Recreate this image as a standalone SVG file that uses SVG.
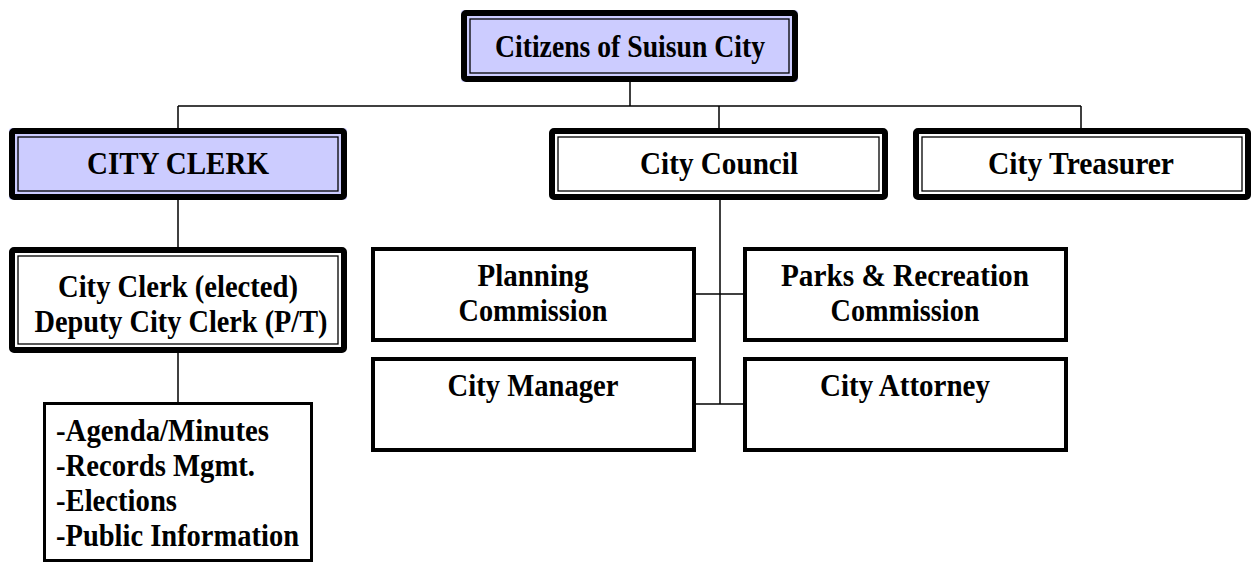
<svg xmlns="http://www.w3.org/2000/svg" width="1253" height="564" viewBox="0 0 1253 564">
<style>
  text { font-family: "Liberation Serif", "Times New Roman", serif; font-weight: bold; font-size: 32px; fill: #000; }
  .c { text-anchor: middle; }
  .thick { fill: none; stroke: #000; stroke-width: 6; }
  .thin { fill: none; stroke: #000; stroke-width: 1.3; }
  .lav { fill: #CCCCFF; }
  .wht { fill: #FFFFFF; }
  .single { fill: #FFFFFF; stroke: #000; stroke-width: 4; }
  .duty { fill: #FFFFFF; stroke: #000; stroke-width: 3; }
  .conn line { stroke: #000; stroke-width: 1.5; }
</style>
<rect width="1253" height="564" fill="#FFFFFF"/>
<g class="conn" id="connectors">
  <line x1="630" y1="82" x2="630" y2="106"/>
  <line x1="178" y1="106" x2="1081" y2="106"/>
  <line x1="178" y1="106" x2="178" y2="128"/>
  <line x1="719" y1="106" x2="719" y2="128"/>
  <line x1="1081" y1="106" x2="1081" y2="128"/>
  <line x1="178" y1="200" x2="178" y2="247"/>
  <line x1="178" y1="353" x2="178" y2="402"/>
  <line x1="720" y1="200" x2="720" y2="404"/>
  <line x1="696" y1="294" x2="743" y2="294"/>
  <line x1="696" y1="404" x2="743" y2="404"/>
</g>
<g id="citizens">
  <rect class="lav" x="461" y="10" width="337" height="72" rx="3"/>
  <rect class="thick" x="464" y="13" width="331" height="66" rx="2"/>
  <rect class="thin" x="470" y="19" width="319" height="54"/>
  <text class="c" x="630" y="57" textLength="270" lengthAdjust="spacingAndGlyphs">Citizens of Suisun City</text>
</g>
<g id="city-clerk">
  <rect class="lav" x="9" y="128" width="338" height="72" rx="3"/>
  <rect class="thick" x="12" y="131" width="332" height="66" rx="2"/>
  <rect class="thin" x="18" y="137" width="320" height="54"/>
  <text class="c" x="178" y="174" textLength="182" lengthAdjust="spacingAndGlyphs">CITY CLERK</text>
</g>
<g id="city-council">
  <rect class="wht" x="549" y="128" width="339" height="72" rx="3"/>
  <rect class="thick" x="552" y="131" width="333" height="66" rx="2"/>
  <rect class="thin" x="558" y="137" width="321" height="54"/>
  <text class="c" x="719" y="174" textLength="158" lengthAdjust="spacingAndGlyphs">City Council</text>
</g>
<g id="city-treasurer">
  <rect class="wht" x="913" y="128" width="338" height="72" rx="3"/>
  <rect class="thick" x="916" y="131" width="332" height="66" rx="2"/>
  <rect class="thin" x="922" y="137" width="320" height="54"/>
  <text class="c" x="1081" y="174" textLength="186" lengthAdjust="spacingAndGlyphs">City Treasurer</text>
</g>
<g id="clerk-elected">
  <rect class="wht" x="9" y="247" width="338" height="106" rx="3"/>
  <rect class="thick" x="12" y="250" width="332" height="100" rx="2"/>
  <rect class="thin" x="18" y="256" width="320" height="88"/>
  <text class="c" x="178" y="297" textLength="240" lengthAdjust="spacingAndGlyphs">City Clerk (elected)</text>
  <text class="c" x="181" y="332" textLength="293" lengthAdjust="spacingAndGlyphs">Deputy City Clerk (P/T)</text>
</g>
<g id="planning">
  <rect class="single" x="373" y="249" width="321" height="91"/>
  <text class="c" x="533" y="286" textLength="111" lengthAdjust="spacingAndGlyphs">Planning</text>
  <text class="c" x="533" y="321" textLength="149" lengthAdjust="spacingAndGlyphs">Commission</text>
</g>
<g id="parks">
  <rect class="single" x="745" y="249" width="321" height="91"/>
  <text class="c" x="905" y="286" textLength="248" lengthAdjust="spacingAndGlyphs">Parks &amp; Recreation</text>
  <text class="c" x="905" y="321" textLength="149" lengthAdjust="spacingAndGlyphs">Commission</text>
</g>
<g id="city-manager">
  <rect class="single" x="373" y="359" width="321" height="91"/>
  <text class="c" x="533" y="396" textLength="171" lengthAdjust="spacingAndGlyphs">City Manager</text>
</g>
<g id="city-attorney">
  <rect class="single" x="745" y="359" width="321" height="91"/>
  <text class="c" x="905" y="396" textLength="170" lengthAdjust="spacingAndGlyphs">City Attorney</text>
</g>
<g id="duties">
  <rect class="duty" x="44.5" y="403.5" width="267" height="157"/>
  <text x="56" y="441" textLength="213" lengthAdjust="spacingAndGlyphs">-Agenda/Minutes</text>
  <text x="56" y="476" textLength="199" lengthAdjust="spacingAndGlyphs">-Records Mgmt.</text>
  <text x="56" y="511" textLength="121" lengthAdjust="spacingAndGlyphs">-Elections</text>
  <text x="56" y="546" textLength="243" lengthAdjust="spacingAndGlyphs">-Public Information</text>
</g>
</svg>
